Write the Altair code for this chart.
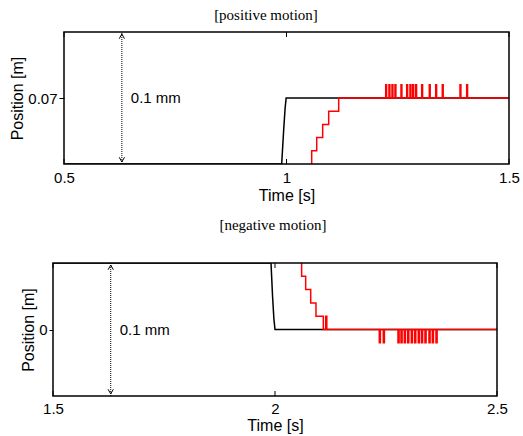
import altair as alt
import pandas as pd

# ---------------- data (positions in mm offsets from the reference level) ----------------
# top panel: [positive motion]
TOP_REF = 0.07
TOP_BLACK_T = [0.5, 0.9892, 0.9935, 0.9968, 0.9992, 1.5]
TOP_BLACK_MM = [-0.05, -0.05, -0.025, -0.008, 0.0, 0.0]
TOP_RED_START_MM = -0.06
TOP_RED_STEP_T = [1.0566, 1.0679, 1.0813, 1.0948, 1.1173]
TOP_RED_STEP_MM = [-0.04, -0.03, -0.02, -0.01, 0.0]
TOP_SPIKE_T = [1.2229, 1.2303, 1.2371, 1.2438, 1.2573, 1.2701, 1.2775, 1.2836,
               1.2903, 1.3038, 1.3209, 1.3353, 1.3501, 1.3899, 1.4049]
TOP_SPIKE_MM = 0.01
TOP_SPIKE_W = 0.002

# bottom panel: [negative motion]
BOT_REF = 0.0
BOT_BLACK_T = [1.5, 1.9910, 1.9945, 1.9975, 2.0, 2.5]
BOT_BLACK_MM = [0.05, 0.05, 0.025, 0.008, 0.0, 0.0]
BOT_RED_START_MM = 0.06
BOT_RED_STEP_T = [2.0600, 2.0691, 2.0804, 2.0923, 2.1088]
BOT_RED_STEP_MM = [0.04, 0.03, 0.02, 0.01, 0.0]
BOT_UPSPIKE_T = [2.1142]
BOT_SPIKE_T = [2.2349, 2.2439, 2.2770, 2.2838, 2.2912, 2.2989, 2.3070, 2.3146,
               2.3227, 2.3300, 2.3378, 2.3468, 2.3543, 2.3626]
BOT_SPIKE_MM = -0.01
BOT_SPIKE_W = 0.0025

X_TICKS_TOP = [0.5, 1.0, 1.5]
X_TICKS_BOT = [1.5, 2.0, 2.5]
SPAN_MM = 0.1

SANS = "Liberation Sans"
SERIF = "Liberation Serif"


def line_df(ts, mm, ref):
    return pd.DataFrame({"t": ts, "y": [ref + v * 1e-3 for v in mm], "i": list(range(len(ts)))})


def red_df(x0, x1, start_mm, step_t, step_mm, spikes, ref):
    ev = [(x0, start_mm)]
    ev += list(zip(step_t, step_mm))
    for (ts, h, w) in spikes:
        ev.append((ts, h))
        ev.append((ts + w, 0.0))
    ev.sort(key=lambda e: e[0])
    ev.append((x1, ev[-1][1]))
    return line_df([e[0] for e in ev], [e[1] for e in ev], ref)


def panel(title, x0, x1, ref, black, red, ticks, left, w, h, fmt, title_offset,
          title_pad, title_dx, ytick, xlab_pad, xtitle_pad):
    ymin = ref - SPAN_MM / 2 * 1e-3
    ymax = ref + SPAN_MM / 2 * 1e-3
    full_w = left + w
    xs = alt.Scale(domain=[x0, x1], range=[left, full_w], nice=False, zero=False)
    ys = alt.Scale(domain=[ymin, ymax], nice=False, zero=False)
    xax = alt.Axis(values=ticks, format="~g", ticks=False, domain=False, grid=False,
                   labelFlush=False, labelPadding=xlab_pad, labelFont=SANS, labelFontSize=15,
                   labelColor="black", title="Time [s]", titleFont=SANS, titleFontSize=16,
                   titleFontWeight="normal", titleColor="black", titlePadding=xtitle_pad,
                   titleX=left + w / 2)
    yax = alt.Axis(values=[ref], format=fmt, ticks=True, tickSize=ytick, tickColor="black",
                   domain=False, grid=False, labelPadding=2, labelFont=SANS, labelFontSize=15,
                   labelColor="black", title="Position [m]", titleFont=SANS, titleFontSize=16,
                   titleFontWeight="normal", titleColor="black", titlePadding=title_pad,
                   offset=-left)

    one = pd.DataFrame({"k": [0]})
    frame = alt.Chart(one).mark_rect(fillOpacity=0, stroke="black", strokeWidth=1.5).encode(
        x=alt.value(left), x2=alt.value(full_w), y=alt.value(0), y2=alt.value(h))

    blk = alt.Chart(black).mark_line(color="black", strokeWidth=1.5, clip=True).encode(
        x=alt.X("t:Q", scale=xs, axis=xax),
        y=alt.Y("y:Q", scale=ys, axis=yax),
        order="i:Q",
    )
    rd = alt.Chart(red).mark_line(color="#ff0000", strokeWidth=1.5, clip=True,
                                  interpolate="step-after").encode(
        x="t:Q", y="y:Q", order="i:Q")

    tk = pd.DataFrame({"t": ticks})
    tick_b = alt.Chart(tk).mark_rule(color="black", strokeWidth=1).encode(
        x="t:Q", y=alt.value(h), y2=alt.value(h - 5))
    tick_t = alt.Chart(tk).mark_rule(color="black", strokeWidth=1).encode(
        x="t:Q", y=alt.value(0), y2=alt.value(5))

    ax_x = x0 + 0.13
    arrow = alt.Chart(one).mark_rule(color="black", strokeWidth=1, strokeDash=[1, 1]).encode(
        x=alt.datum(ax_x), y=alt.datum(ymin), y2=alt.datum(ymax))
    head_up = alt.Chart(one).mark_point(shape="M -0.5 0.9 L 0 0 L 0.5 0.9", size=110,
                                        filled=False, color="black", strokeWidth=1,
                                        opacity=1).encode(
        x=alt.datum(ax_x), y=alt.datum(ymax), yOffset=alt.value(2))
    head_dn = alt.Chart(one).mark_point(shape="M -0.5 -0.9 L 0 0 L 0.5 -0.9", size=110,
                                        filled=False, color="black", strokeWidth=1,
                                        opacity=1).encode(
        x=alt.datum(ax_x), y=alt.datum(ymin), yOffset=alt.value(-2))
    label = alt.Chart(one).mark_text(text="0.1 mm", align="left", baseline="middle", dx=9,
                                     font=SANS, fontSize=15, fontWeight="normal",
                                     color="black").encode(
        x=alt.datum(ax_x), y=alt.datum(ref))

    return alt.layer(blk, rd, frame, tick_b, tick_t, arrow, head_up, head_dn, label).properties(
        width=full_w, height=h,
        title=alt.TitleParams(title, font=SERIF, fontSize=15, fontWeight="normal",
                              color="black", offset=title_offset, dx=title_dx),
    )


top_black = line_df(TOP_BLACK_T, TOP_BLACK_MM, TOP_REF)
top_red = red_df(0.5, 1.5, TOP_RED_START_MM, TOP_RED_STEP_T, TOP_RED_STEP_MM,
                 [(t, TOP_SPIKE_MM, TOP_SPIKE_W) for t in TOP_SPIKE_T], TOP_REF)
bot_black = line_df(BOT_BLACK_T, BOT_BLACK_MM, BOT_REF)
bot_red = red_df(1.5, 2.5, BOT_RED_START_MM, BOT_RED_STEP_T, BOT_RED_STEP_MM,
                 [(t, 0.01, BOT_SPIKE_W) for t in BOT_UPSPIKE_T]
                 + [(t, BOT_SPIKE_MM, BOT_SPIKE_W) for t in BOT_SPIKE_T], BOT_REF)

top = panel("[positive motion]", 0.5, 1.5, TOP_REF, top_black, top_red, X_TICKS_TOP,
            11, 445, 132, ".2f", 8, 2, -15, 5, 6, 2)
bot = panel("[negative motion]", 1.5, 2.5, BOT_REF, bot_black, bot_red, X_TICKS_BOT,
            0, 444, 133, ".0f", 29, 2, -2, 4, 5, 1)

chart = alt.vconcat(top, bot, spacing=15).properties(
    padding={"left": 9, "top": 8, "right": 2, "bottom": 2}
).configure_view(strokeWidth=0)

chart.save("out.html", embed_options={"renderer": "svg", "actions": False})
